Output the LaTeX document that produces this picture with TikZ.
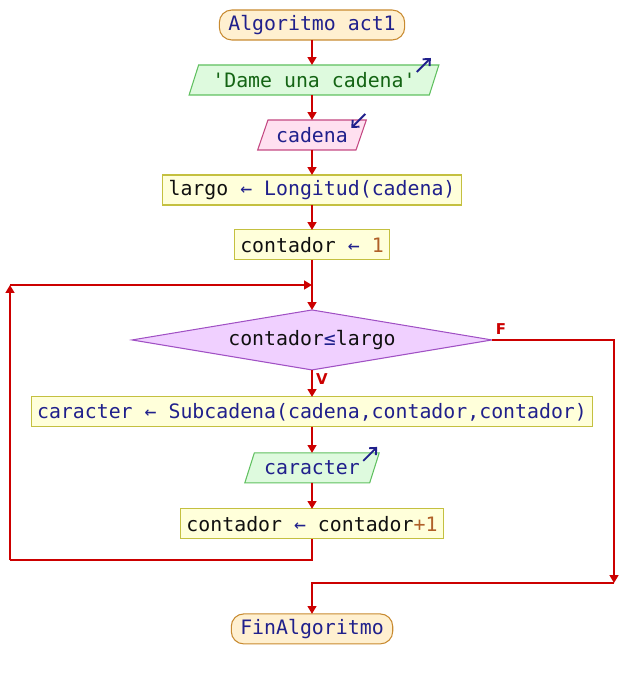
\documentclass[tikz,border=0pt]{standalone}
\usepackage{fontspec}
\setmonofont{DejaVu Sans Mono}
\newfontfamily\lblfont{DejaVu Sans}
\usepackage{tikz}
\usetikzlibrary{arrows.meta, positioning, shapes.geometric}
\definecolor{flowred}{RGB}{204, 0, 0}
\definecolor{txtnavy}{RGB}{32, 32, 140}
\definecolor{txtblack}{RGB}{16, 16, 16}
\definecolor{txtgreen}{RGB}{20, 100, 20}
\definecolor{numbrown}{RGB}{176, 96, 40}
\definecolor{termfill}{RGB}{255, 240, 208}
\definecolor{termdraw}{RGB}{200, 138, 48}
\definecolor{procfill}{RGB}{255, 255, 218}
\definecolor{procdraw}{RGB}{196, 192, 64}
\definecolor{outfill}{RGB}{222, 250, 222}
\definecolor{outdraw}{RGB}{96, 192, 96}
\definecolor{infill}{RGB}{255, 224, 240}
\definecolor{indraw}{RGB}{196, 72, 130}
\definecolor{decfill}{RGB}{240, 208, 255}
\definecolor{decdraw}{RGB}{160, 80, 196}

\begin{document}
\begin{tikzpicture}[
    x=0.02cm, y=-0.02cm,
    node distance=0.5cm,
    base/.style={draw, line width=0.6pt, outer sep=0pt, minimum height=0.6cm, inner xsep=0.12cm, inner ysep=1pt, font=\ttfamily\fontsize{11.3}{13}\selectfont, text=txtnavy},
    terminal/.style={base, rounded corners=0.25cm, fill=termfill, draw=termdraw, inner xsep=0.18cm},
    proc/.style={base, fill=procfill, draw=procdraw},
    slanted/.style={base, trapezium, trapezium left angle=66, trapezium right angle=114, trapezium stretches=true, inner xsep=0pt},
    outbox/.style={slanted, fill=outfill, draw=outdraw},
    inbox/.style={slanted, fill=infill, draw=indraw},
    decision/.style={base, diamond, shape aspect=6, inner sep=0pt, minimum width=7.2cm, minimum height=1.2cm, fill=decfill, draw=decdraw},
    line/.style={draw=flowred, line width=1.1pt},
    arrow/.style={line, -{Triangle[length=4.5pt, width=5pt]}},
    icon/.style={draw=txtnavy, line width=1.1pt, -{Straight Barb[length=3pt, width=5.5pt]}},
    branch/.style={text=flowred, font=\lblfont\bfseries\fontsize{8.5}{9}\selectfont, inner sep=0pt}
  ]
    \useasboundingbox (0,0) rectangle (624,675);

    \node[terminal] (start) at (312,25) {Algoritmo act1};
    \node[outbox, minimum width=5cm, below=of start, xshift=0.04cm, text=txtgreen] (ask) {'Dame una cadena'};
    \node[inbox, minimum width=2.18cm, below=of ask, xshift=-0.04cm] (read) {cadena};
    \node[proc, below=of read] (len) {{\color{txtblack}largo} ← Longitud(cadena)};
    \node[proc, below=of len] (init) {{\color{txtblack}contador} ← {\color{numbrown}1}};
    \node[decision, below=1cm of init] (cond) {{\color{txtblack}contador}≤{\color{txtblack}largo}};
    \node[proc, below=0.54cm of cond] (sub) {caracter ← Subcadena(cadena,contador,contador)};
    \node[outbox, minimum width=2.7cm, below=0.52cm of sub] (show) {caracter};
    \node[proc, below=0.52cm of show] (inc) {{\color{txtblack}contador} ← {\color{txtblack}contador}{\color{numbrown}+1}};
    \node[terminal, below=1.5cm of inc] (stop) {FinAlgoritmo};

    \node[branch] (flbl) at (501,329) {F};
    \node[branch] (vlbl) at (322,379) {V};

    \coordinate (join) at (312,285);
    \coordinate (backlow) at (10,560);
    \coordinate (backtop) at (10,285);
    \coordinate (fdown) at (614,583);

    \draw[arrow] (start) -- (start |- ask.north);
    \draw[arrow] (start |- ask.south) -- (start |- read.north);
    \draw[arrow] (start |- read.south) -- (len);
    \draw[arrow] (len) -- (init);
    \draw[arrow] (init) -- (cond);
    \draw[arrow] (cond) -- (sub);
    \draw[arrow] (sub) -- (show);
    \draw[arrow] (show) -- (inc);

    % loop back
    \draw[line] (inc) |- (backlow);
    \draw[arrow] (backlow) -- (backtop);
    \draw[arrow] (backtop) -- (join);

    % exit
    \draw[arrow] (cond) -| (fdown);
    \draw[arrow] (fdown) -| (stop);

    % in/out marks
    \draw[icon] ([shift={(-22,7)}]ask.top right corner) -- ++(14,-14);
    \draw[icon] ([shift={(-1,-6)}]read.top right corner) -- ++(-14,14);
    \draw[icon] ([shift={(-16,8)}]show.top right corner) -- ++(14,-14);
  \end{tikzpicture}
\end{document}
